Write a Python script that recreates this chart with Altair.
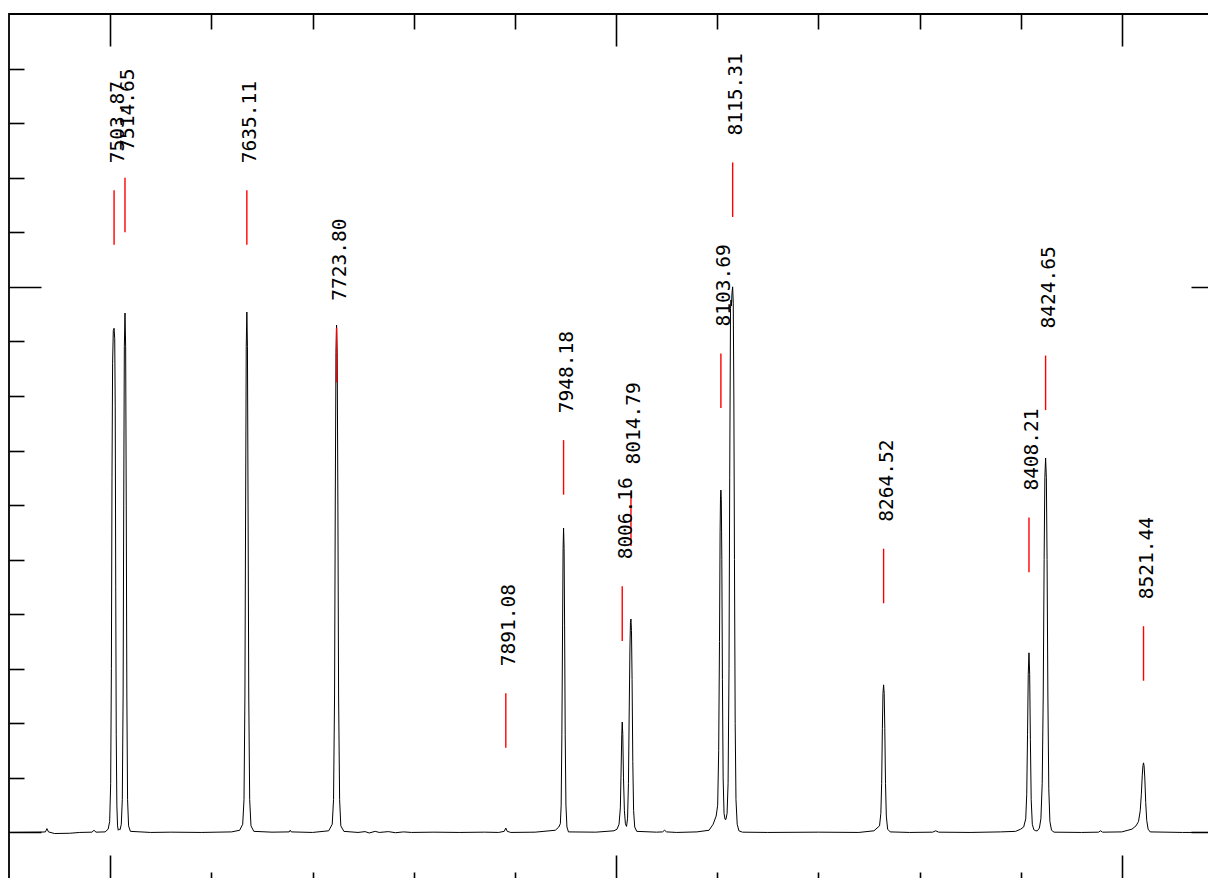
import altair as alt
import pandas as pd

# ---------------- data ----------------
# spectrum (wavelength in Angstrom, counts)
spec_wl = [
    7400, 7430, 7436, 7437.5, 7439, 7445, 7460, 7470, 7482, 7484, 7486, 7495, 7498,
    7499.5, 7500.5, 7501.2, 7501.8, 7502.4, 7503.1, 7503.87, 7504.5, 7505.0, 7505.5, 7506.0, 7506.6, 7507.3, 7508.0,
    7509.0, 7509.8,
    7511.0, 7512.0, 7512.8, 7513.4, 7514.0, 7514.65, 7515.3, 7515.9, 7516.5, 7517.2, 7518.2, 7520,
    7540, 7560, 7590, 7620, 7628,
    7631, 7632.3, 7633.2, 7633.9, 7634.5, 7635.11, 7635.7, 7636.3, 7637.0, 7637.9, 7639.2, 7642,
    7660, 7677, 7678, 7679, 7700, 7716,
    7719.5, 7720.8, 7721.8, 7722.5, 7723.2, 7723.8, 7724.4, 7725.1, 7725.8, 7726.8, 7728, 7731,
    7745, 7752, 7756, 7762, 7766, 7775, 7782, 7790, 7798, 7820, 7845, 7870, 7884,
    7889.5, 7891.08, 7892.5, 7896, 7920, 7940,
    7943.5, 7945, 7945.8, 7946.5, 7947.2, 7947.7, 7948.18, 7948.7, 7949.2, 7949.8, 7950.5, 7951.5, 7953,
    7980, 7998,
    8001, 8003, 8004.3, 8005.1, 8005.7, 8006.16, 8006.7, 8007.4, 8008.3, 8009.3, 8010.4,
    8011.4, 8012.3, 8013.1, 8013.8, 8014.3, 8014.79, 8015.3, 8015.9, 8016.6, 8017.4, 8018.5, 8020.5,
    8040, 8046, 8048, 8050, 8060, 8080, 8092, 8096, 8099,
    8100.5, 8101.5, 8102.3, 8102.9, 8103.3, 8103.69, 8104.1, 8104.6, 8105.2, 8105.9, 8106.8, 8107.8,
    8108.7, 8109.8, 8110.8, 8111.7, 8112.4, 8113.2, 8113.6, 8114.1, 8114.7, 8115.31, 8115.9, 8116.5,
    8117.1, 8117.8, 8118.6, 8119.8, 8121.5, 8125,
    8150, 8200, 8240, 8255, 8258,
    8260.5, 8261.8, 8262.6, 8263.3, 8263.9, 8264.52, 8265.1, 8265.7, 8266.4, 8267.2, 8268.5, 8271,
    8290, 8313, 8316, 8319, 8350, 8380, 8395, 8400,
    8403, 8405, 8406, 8406.8, 8407.5, 8408.21, 8408.9, 8409.6, 8410.4, 8411.5, 8413, 8415,
    8416.5, 8418.5, 8420, 8421.3, 8422.3, 8423.2, 8423.9, 8424.65, 8425.4, 8426.1, 8426.9, 8427.8,
    8428.9, 8430.5, 8433,
    8460, 8477, 8479, 8481, 8500, 8510, 8514,
    8516.5, 8518.2, 8519.3, 8520.2, 8520.9, 8521.44, 8522.0, 8522.7, 8523.6, 8524.6, 8526, 8528,
    8560, 8600,
]
spec_flux = [
    0, 5, 10, 70, 10, -20, -15, 0, 5, 40, 5, 10, 60,
    200, 900, 3000, 6500, 8600, 9200, 9240, 9050, 7800, 4500, 1800, 500, 120, 40,
    60, 50,
    150, 600, 2500, 6000, 8900, 9520, 8900, 6000, 2500, 600, 120, 20,
    0, 5, 0, 10, 40,
    150, 600, 2500, 6000, 8900, 9538, 8900, 6000, 2500, 600, 120, 20,
    5, 10, 40, 10, 0, 30,
    150, 600, 2500, 6000, 8800, 9300, 8800, 6000, 2500, 600, 120, 20,
    0, 15, -10, 20, 0, 15, -5, 10, 0, 5, 0, 5, 0,
    20, 80, 20, 0, 5, 40,
    100, 160, 500, 1800, 3800, 5200, 5579, 5200, 3800, 1800, 500, 100, 10,
    5, 30,
    60, 150, 450, 1200, 1800, 2023, 1800, 1000, 400, 160, 110,
    250, 900, 2300, 3400, 3850, 3911, 3700, 2800, 1300, 400, 100, 20,
    5, 10, 40, 10, 0, 10, 40, 150, 300,
    500, 1500, 3500, 5500, 6150, 6276, 6100, 5000, 2800, 1000, 350, 240,
    240, 350, 900, 3000, 6500, 9600, 9760, 9650, 9900, 10000, 9700, 8000,
    5000, 2000, 600, 150, 30, 5,
    0, 5, 0, 30, 80,
    120, 350, 900, 1900, 2550, 2705, 2550, 1900, 900, 300, 60, 10,
    0, 5, 30, 5, 0, 10, 20, 60,
    100, 250, 700, 1800, 2900, 3292, 2900, 1700, 600, 150, 50, 30,
    30, 80, 250, 900, 2500, 5000, 6500, 6862, 6500, 5000, 2500, 800,
    200, 40, 5,
    0, 5, 30, 5, 10, 60, 120,
    200, 400, 700, 1050, 1230, 1275, 1220, 1000, 550, 220, 60, 10,
    0, 0,
]

# identified lines
line_wl = [7503.87, 7514.65, 7635.11, 7723.80, 7891.08, 7948.18, 8006.16,
           8014.79, 8103.69, 8115.31, 8264.52, 8408.21, 8424.65, 8521.44]
line_label = ["7503.87", "7514.65", "7635.11", "7723.80", "7891.08", "7948.18", "8006.16",
              "8014.79", "8103.69", "8115.31", "8264.52", "8408.21", "8424.65", "8521.44"]
mark_bottom = [10770, 11000, 10770, 8250, 1550, 6190, 3510,
               5250, 7780, 11280, 4200, 4770, 7740, 2780]
mark_length = 1000

# axis tick values
x_major = [7500, 8000, 8500]
x_minor = [7600, 7700, 7800, 7900, 8100, 8200, 8300, 8400]
y_major = [0, 10000]
y_minor = [1000, 2000, 3000, 4000, 5000, 6000, 7000, 8000, 9000,
           11000, 12000, 13000, 14000]

spec = pd.DataFrame({"wl": spec_wl, "flux": spec_flux})
ids = pd.DataFrame({"wl": line_wl, "label": line_label, "y0": mark_bottom})

xs = alt.Scale(domain=[7400, 8600], nice=False, zero=False)
ys = alt.Scale(domain=[-1000, 15000], nice=False, zero=False)

MAJOR = 32
MINOR = 15


def ax(orient, values, size):
    # inward ticks: axis pulled inside the frame by its own tick length
    return alt.Axis(orient=orient, values=values, tickSize=size, offset=-size,
                    labels=False, domain=False, grid=False, title=None,
                    tickColor="black", tickWidth=1.6, minExtent=0, maxExtent=0)


spectrum = alt.Chart(spec).mark_line(color="black", strokeWidth=1, interpolate="linear").encode(
    x=alt.X("wl:Q", scale=xs, axis=ax("top", x_major, MAJOR)),
    y=alt.Y("flux:Q", scale=ys, axis=ax("left", y_major, MAJOR)),
    order="wl:Q",
)

base = alt.Chart(ids).transform_calculate(y1=f"datum.y0 + {mark_length}")

ticks = base.mark_rule(color="#ff0000", strokeWidth=1.4).encode(
    x=alt.X("wl:Q", scale=xs, axis=ax("top", x_minor, MINOR)),
    y=alt.Y("y0:Q", scale=ys, axis=ax("left", y_minor, MINOR)),
    y2="y1:Q",
)

labels = base.mark_text(angle=270, align="left", baseline="middle", dx=27, dy=3.5,
                        font="DejaVu Sans Mono", fontSize=19.5, color="black").encode(
    x=alt.X("wl:Q", scale=xs, axis=ax("bottom", x_major, MAJOR)),
    y=alt.Y("y1:Q", scale=ys, axis=ax("right", y_major, MAJOR)),
    text="label:N",
)

ghost = base.mark_point(opacity=0, size=1).encode(
    x=alt.X("wl:Q", scale=xs, axis=ax("bottom", x_minor, MINOR)),
    y=alt.Y("y1:Q", scale=ys, axis=ax("right", y_minor, MINOR)),
)

chart = alt.layer(spectrum, ticks, labels, ghost).resolve_axis(
    x="independent", y="independent"
).properties(
    width=1214, height=873,
    padding={"left": 1, "top": 6, "right": -15, "bottom": -9},
    autosize=alt.AutoSizeParams(type="none"),
    background="white",
).configure_view(
    stroke="black", strokeWidth=1.8
)

chart.save("out.html", embed_options={"renderer": "svg", "actions": False})
